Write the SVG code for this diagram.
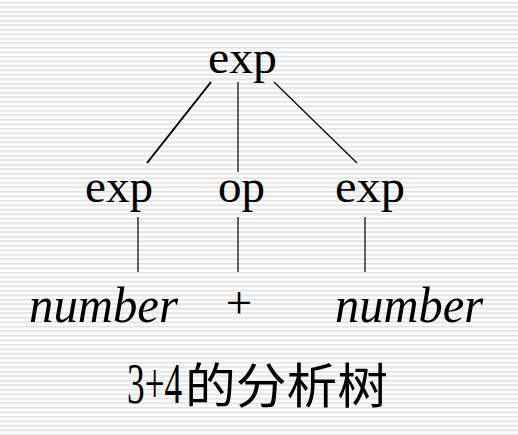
<svg xmlns="http://www.w3.org/2000/svg" width="518" height="435" viewBox="0 0 518 435">
<defs>
<pattern id="stripes" x="0" y="0" width="10" height="4.5" patternUnits="userSpaceOnUse">
<rect x="0" y="0" width="10" height="4.5" fill="#ffffff"/>
<rect x="0" y="2" width="10" height="1" fill="#d6d6d6"/>
<rect x="0" y="3" width="10" height="1" fill="#e8e8e8"/>
</pattern>
</defs>
<style>
.t{font-family:"Liberation Serif","Times New Roman",serif;fill:#000;}
.i{font-style:italic;}
.e{stroke:#000;fill:none;}
</style>
<rect width="518" height="435" fill="url(#stripes)"/>
<g id="connectors">
<line class="e" x1="211" y1="82" x2="147" y2="163" stroke-width="2"/>
<line class="e" x1="238" y1="82" x2="238" y2="172" stroke-width="1.2"/>
<line class="e" x1="274" y1="82" x2="357" y2="163" stroke-width="1.2"/>
<line class="e" x1="138" y1="217" x2="138" y2="272" stroke-width="1.2"/>
<line class="e" x1="238" y1="217" x2="238" y2="272" stroke-width="1.2"/>
<line class="e" x1="365" y1="217" x2="365" y2="272" stroke-width="1.2"/>
</g>
<g id="node-exp-root"><text class="t" x="208" y="73" font-size="47" textLength="69" lengthAdjust="spacingAndGlyphs">exp</text></g>
<g id="node-exp-left"><text class="t" x="85" y="202" font-size="47" textLength="68" lengthAdjust="spacingAndGlyphs">exp</text></g>
<g id="node-op"><text class="t" x="218" y="202" font-size="47" textLength="47" lengthAdjust="spacingAndGlyphs">op</text></g>
<g id="node-exp-right"><text class="t" x="335" y="202" font-size="47" textLength="70" lengthAdjust="spacingAndGlyphs">exp</text></g>
<g id="node-number-left"><text class="t i" x="29" y="322" font-size="50" textLength="149" lengthAdjust="spacingAndGlyphs">number</text></g>
<g id="node-plus"><text class="t" x="239" y="318" font-size="47" text-anchor="middle">+</text></g>
<g id="node-number-right"><text class="t i" x="335" y="322" font-size="50" textLength="148" lengthAdjust="spacingAndGlyphs">number</text></g>
<g id="caption">
<text class="t" transform="translate(127,403) scale(0.63,1)" x="0" y="0" font-size="56">3+4</text>
<text x="185" y="403" font-size="48" font-family="'Noto Sans CJK SC',sans-serif" textLength="203" lengthAdjust="spacingAndGlyphs">的分析树</text>
</g>
</svg>
